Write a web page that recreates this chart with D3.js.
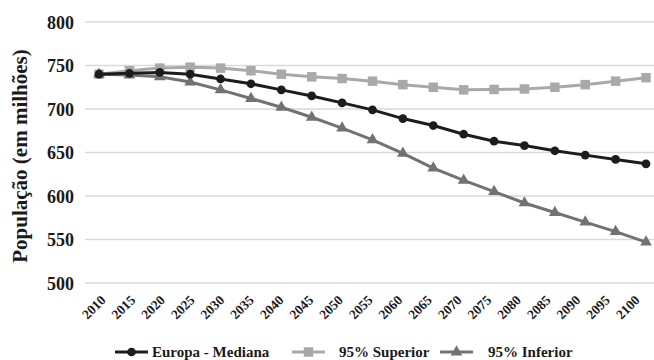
<!DOCTYPE html>
<html>
<head>
<meta charset="utf-8">
<script src="https://cdn.jsdelivr.net/npm/d3@7"></script>
<style>
  html, body { margin: 0; padding: 0; background: #fff; }
  svg { display: block; }
  svg text { font-family: "Liberation Serif", "DejaVu Serif", serif; font-weight: bold; fill: #1a1a1a; }
</style>
</head>
<body>
<svg id="chart" width="654" height="360"></svg>
<script>
const years = [2010,2015,2020,2025,2030,2035,2040,2045,2050,2055,2060,2065,2070,2075,2080,2085,2090,2095,2100];
const medianValues = [740,741,742,740,734.5,729,722,715,707,699,689,681,671,663,658,652,647,642,637];
const upperValues  = [740,744,747,748,747,744,740,737,735,732,728,725,722,722.5,723,725,728,732,736];
const lowerValues  = [740,739,737,731,722,712,702,690.5,678,664.5,649,632,618,605,592,581,570,559,547];
const yTicks = [500,550,600,650,700,750,800];
const seriesNames = ["Europa - Mediana","95% Superior","95% Inferior"];

const svg = d3.select("#chart");
const x = d3.scalePoint().domain(years).range([99, 646]);
const xLabel = d3.scalePoint().domain(years).range([106, 640]);
const y = d3.scaleLinear().domain([500, 800]).range([283, 22]);

svg.append("g").selectAll("line").data(yTicks).join("line")
  .attr("x1", 85).attr("x2", 654)
  .attr("y1", d => y(d)).attr("y2", d => y(d))
  .attr("stroke", "#d9d9d9").attr("stroke-width", 1.6);

const gy = svg.append("g").attr("transform", "translate(74,0)")
  .call(d3.axisLeft(y).tickValues(yTicks).tickSize(0).tickFormat(""));
gy.select(".domain").remove();
gy.selectAll(".tick").append("text")
  .attr("x", 0).attr("y", 6).attr("text-anchor", "end")
  .style("font-size", "18px").text(d => d);

const gx = svg.append("g").attr("transform", "translate(0,301)")
  .call(d3.axisBottom(xLabel).tickSize(0).tickFormat(""));
gx.select(".domain").remove();
gx.selectAll(".tick").append("text")
  .attr("text-anchor", "end").style("font-size", "13.5px")
  .attr("transform", "rotate(-45)").text(d => d);

svg.append("text")
  .attr("transform", "translate(27,156) rotate(-90)")
  .attr("text-anchor", "middle")
  .style("font-size", "21px")
  .text("População (em milhões)");

const series = [
  {name: seriesNames[1], values: upperValues, color: "#a9a9a9", marker: "square"},
  {name: seriesNames[2], values: lowerValues, color: "#727272", marker: "triangle"},
  {name: seriesNames[0], values: medianValues, color: "#1c1c1c", marker: "circle"}
];

const line = d3.line().x((d, i) => x(years[i])).y(d => y(d));
const symbolFor = m => m === "square" ? d3.symbolSquare : m === "triangle" ? d3.symbolTriangle : d3.symbolCircle;
const sizeFor = m => m === "square" ? 90 : m === "triangle" ? 60 : 60;

series.forEach(s => {
  svg.append("path").datum(s.values)
    .attr("fill", "none").attr("stroke", s.color).attr("stroke-width", 3)
    .attr("d", line);
  svg.append("g").selectAll("path").data(s.values).join("path")
    .attr("transform", (d, i) => `translate(${x(years[i])},${y(d)})`)
    .attr("d", d3.symbol().type(symbolFor(s.marker)).size(sizeFor(s.marker)))
    .attr("fill", s.color);
});

const legendItems = [
  {name: seriesNames[0], color: "#1c1c1c", marker: "circle", x0: 115, tx: 152},
  {name: seriesNames[1], color: "#a9a9a9", marker: "square", x0: 292, tx: 339},
  {name: seriesNames[2], color: "#727272", marker: "triangle", x0: 440, tx: 488}
];
const lg = svg.append("g");
legendItems.forEach(it => {
  lg.append("line").attr("x1", it.x0).attr("x2", it.x0 + 33).attr("y1", 352).attr("y2", 352)
    .attr("stroke", it.color).attr("stroke-width", 3);
  lg.append("path").attr("transform", `translate(${it.x0 + 16.5},352)`)
    .attr("d", d3.symbol().type(symbolFor(it.marker)).size(sizeFor(it.marker)))
    .attr("fill", it.color);
  lg.append("text").attr("x", it.tx).attr("y", 357).style("font-size", "15px").text(it.name);
});
</script>
</body>
</html>
